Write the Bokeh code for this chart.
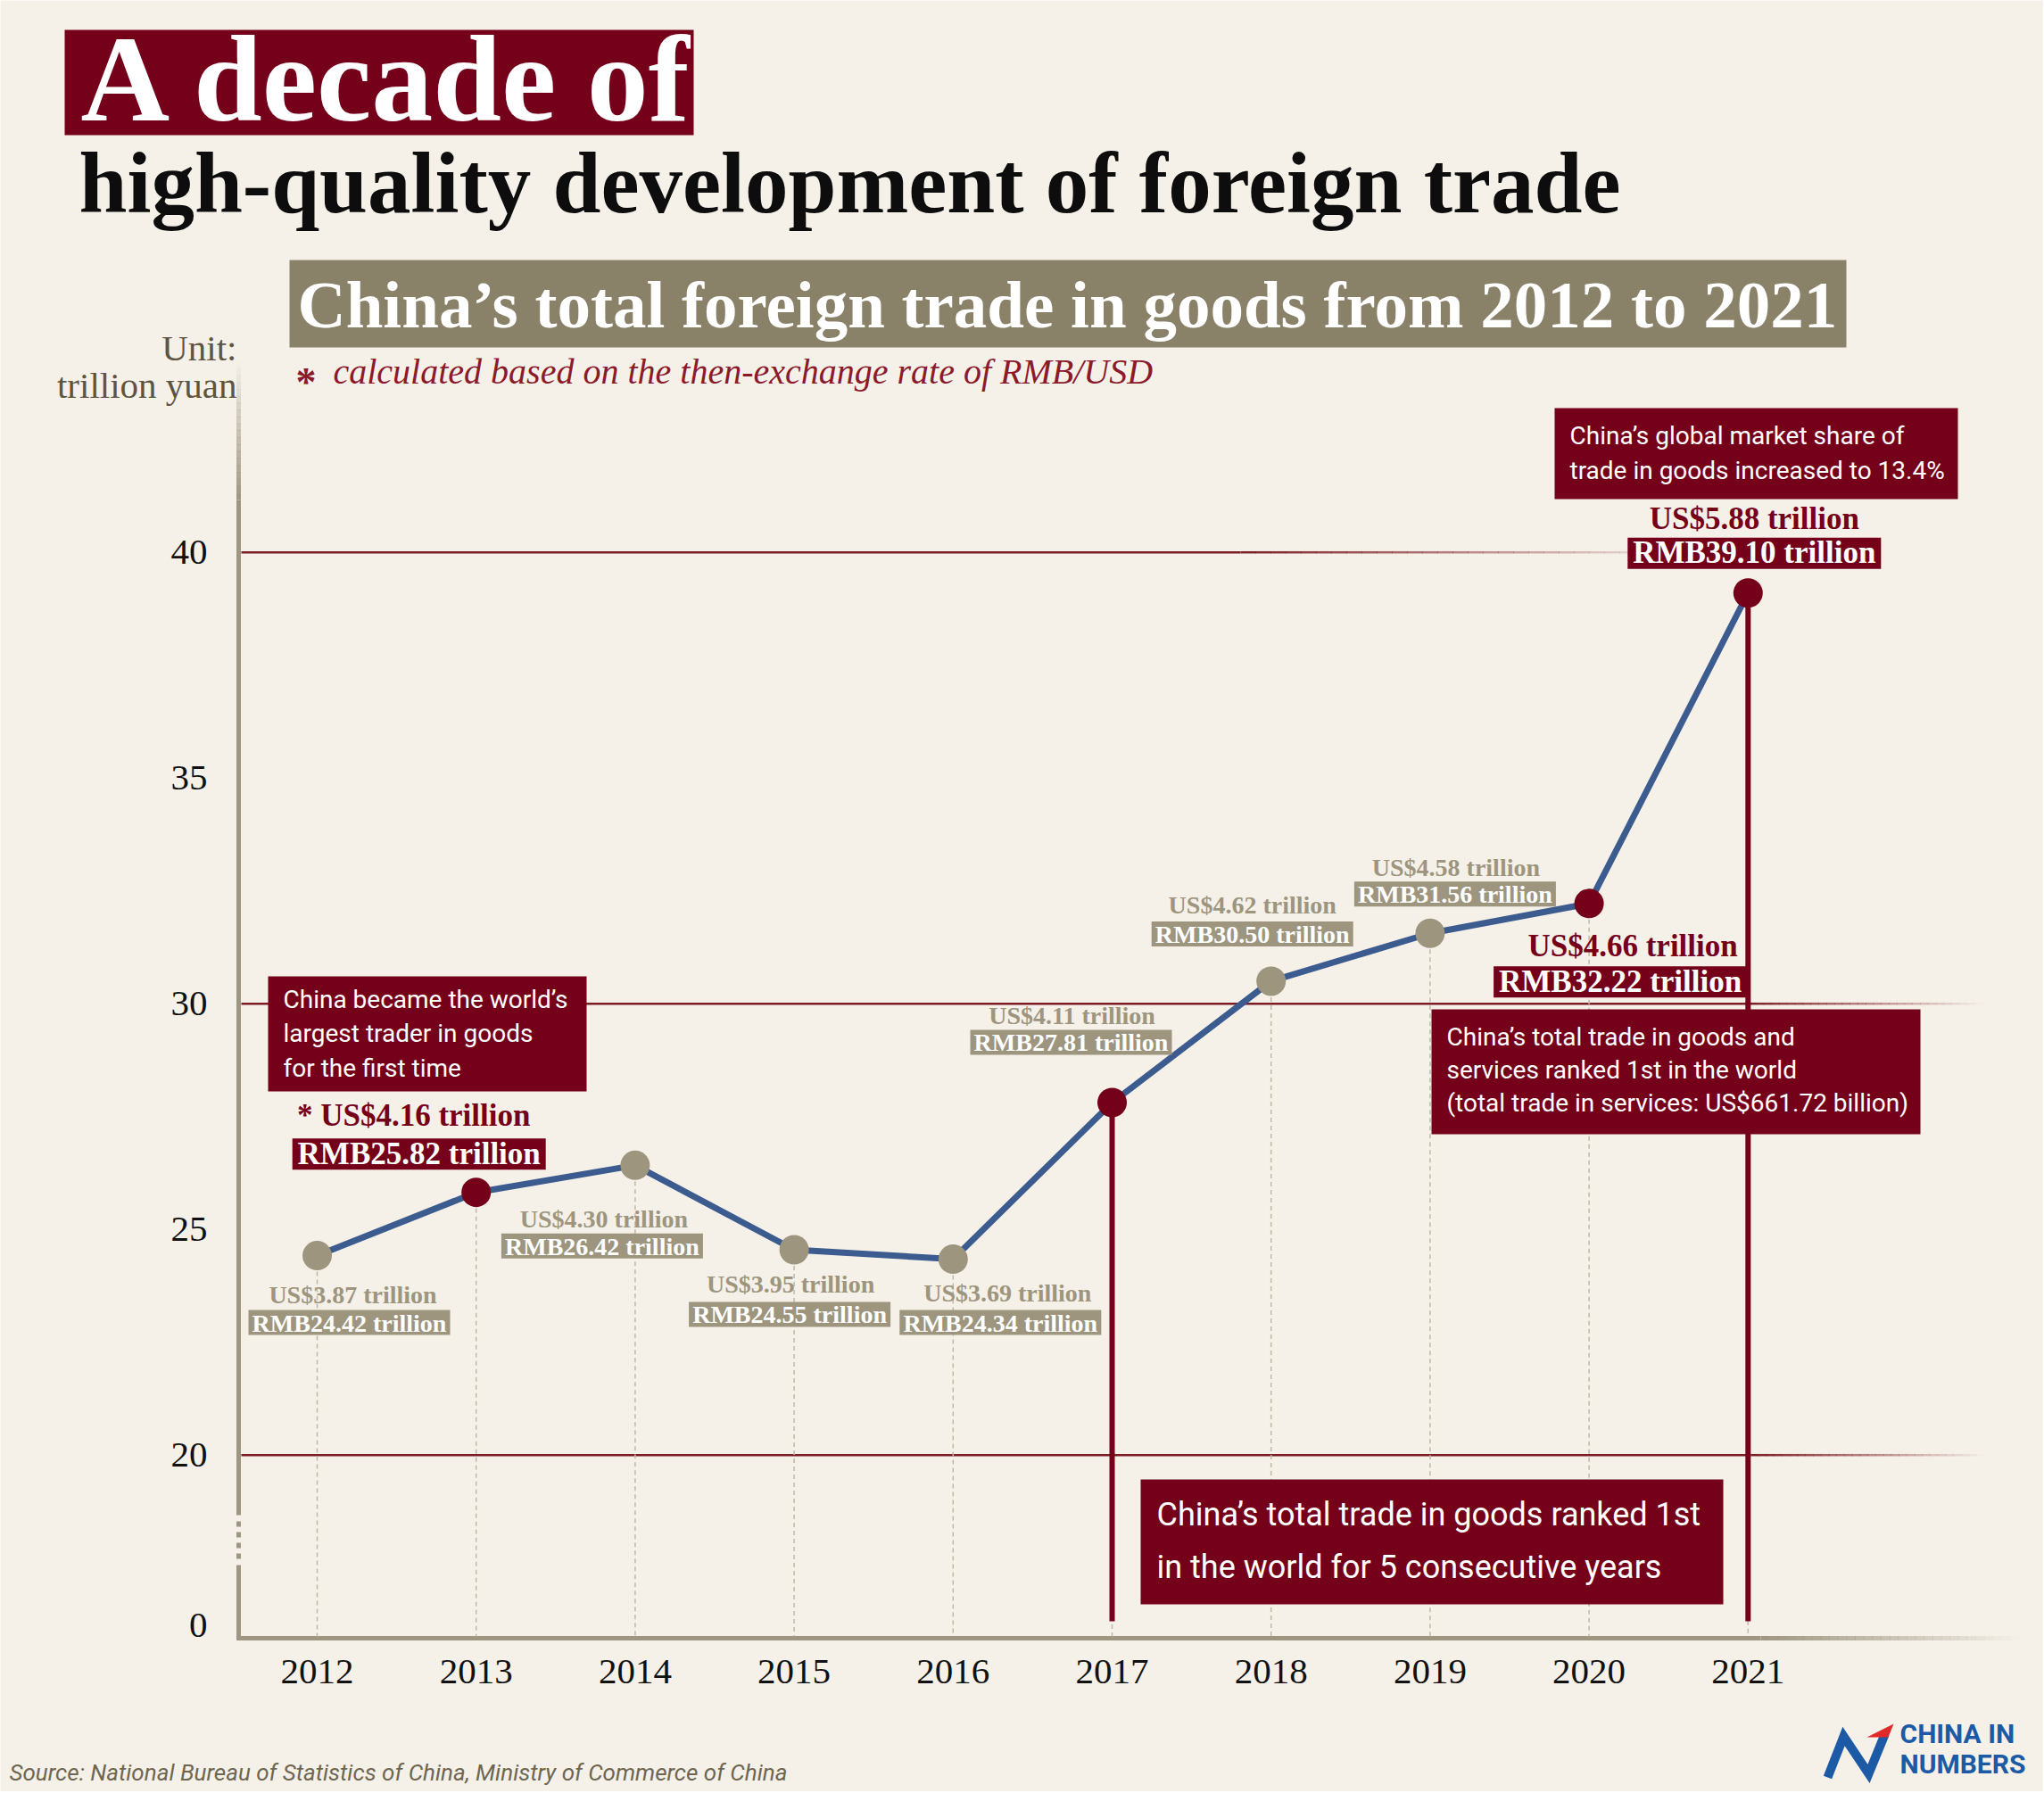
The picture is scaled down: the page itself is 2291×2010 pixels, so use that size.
from bokeh.plotting import figure
from bokeh.models import Range1d, LinearAxis, FixedTicker
from bokeh.core.properties import value
from bokeh.embed import file_html
from bokeh.resources import INLINE

# ---------------- data ----------------
years = [2012, 2013, 2014, 2015, 2016, 2017, 2018, 2019, 2020, 2021]
rmb_trillion = [24.42, 25.82, 26.42, 24.55, 24.34, 27.81, 30.50, 31.56, 32.22, 39.10]
usd_trillion = [3.87, 4.16, 4.30, 3.95, 3.69, 4.11, 4.62, 4.58, 4.66, 5.88]
y_ticks = [20, 25, 30, 35, 40]
grid_values = [20, 30, 40]
red_point_years = [2013, 2017, 2020, 2021]
red_label_years = [2013, 2020, 2021]
asterisk_years = [2013]
milestone_years = [2017, 2021]

# ---------------- layout (pixels of the 2291x2010 page) ----------------
W, H = 2290, 2008
PAD = 0
SX = 178.2      # px per year
SY = 50.6       # px per trillion yuan
X_START = 2012 - (355 - PAD) / SX
X_END = X_START + W / SX
Y_END = 30 + (1124.7 - PAD) / SY
Y_START = Y_END - H / SY
BSHIFT = 0.34   # baseline correction (fraction of font size)


def fx(px):
    return X_START + (px - PAD) / SX


def fy(py):
    return Y_END - (py - PAD) / SY


# label offsets relative to each point (screen px)
us_dx = [40, -70, -35, -4, 61, -45, -21, 29, 49, 7]
us_dy = [53, -74, 70, 48.5, 47, -87.5, -76, -64, 60, -71]
rmb_dx = [36, -64, -37, -5, 53, -46, -21, 28, 35, 7]
rmb_dy = [75, -43, 90.5, 72.5, 71, -67.5, -53, -44, 88, -44.5]

BG = "#f5f1e9"
RED = "#75001a"
GRID_RED = "#7c1c24"
GRAY = "#9d957e"
GRAY_BOX = "#8a8169"
BLUE = "#3c5b8e"
AXIS = "#9e9680"
DROP = "#c0b9a7"
SERIF = value("Liberation Serif")
SANS = value("Roboto")

p = figure(width=W, height=H, x_range=Range1d(X_START, X_END),
           y_range=Range1d(Y_START, Y_END), x_axis_type=None, y_axis_type=None,
           toolbar_location=None, output_backend="svg", min_border=0,
           background_fill_color=BG, border_fill_color=BG, outline_line_color=None)


def txt(x_px, y_px, s, size, color, font=SERIF, style="normal", align="left"):
    p.text(x=[fx(x_px)], y=[fy(y_px)], text=[s], text_font=font, y_offset=-BSHIFT * size,
           text_font_style=style, text_font_size=f"{size}px", text_color=color,
           text_align=align, text_baseline="alphabetic")


def box(l, t, r, b, color):
    p.quad(left=[fx(l)], right=[fx(r)], top=[fy(t)], bottom=[fy(b)],
           fill_color=color, line_color=None)


# ---------------- titles ----------------
box(72, 33, 777, 151, RED)
txt(90, 135, "A decade of", 138, "white", style="bold")
txt(88, 238, "high-quality development of foreign trade", 97, "#0d0d0d", style="bold")
box(324, 291, 2069, 389, GRAY_BOX)
txt(333, 366, "China’s total foreign trade in goods from 2012 to 2021", 75, "white", style="bold")
txt(331, 444, "*", 46, "#8b1a2b", style="bold")
txt(373, 430, "calculated based on the then-exchange rate of RMB/USD", 40, "#8b1a2b", style="italic")
txt(265, 403, "Unit:", 41, "#5d5541", align="right")
txt(265, 445, "trillion yuan", 41, "#5d5541", align="right")


# ---------------- grid lines with fade ----------------
def faded_hline(y, x0, x_solid, x_end, color, width, n=30):
    xs0, xs1, al = [fx(x0)], [fx(x_solid)], [1.0]
    step = (x_end - x_solid) / n
    for i in range(n):
        a = x_solid + i * step
        xs0.append(fx(a))
        xs1.append(fx(a + step + 0.5))
        al.append(1 - (i + 0.5) / n)
    p.segment(x0=xs0, x1=xs1, y0=[y] * len(xs0), y1=[y] * len(xs0),
              line_color=color, line_alpha=al, line_width=width, line_cap="butt")


grid_fade = {20: (1962, 2224), 30: (1959, 2222), 40: (1390, 1900)}
for g in grid_values:
    s, e = grid_fade[g]
    faded_hline(g, 270, s, e, GRID_RED, 2.5)

# x axis line
faded_hline(fy(1836), 265, 1973, 2262, AXIS, 5)

# y axis line (with break and top fade)
AX = fx(267)
p.segment(x0=[AX, AX], x1=[AX, AX], y0=[fy(1838.5), fy(1698)], y1=[fy(1754), fy(560)],
          line_color=AXIS, line_width=5, line_cap="butt")
p.segment(x0=[AX], x1=[AX], y0=[fy(1747)], y1=[fy(1705)], line_color=AXIS,
          line_width=5, line_dash="6 6", line_cap="butt")
n = 20
ys0 = [fy(560 - i * (155 / n)) for i in range(n)]
ys1 = [fy(560 - (i + 1) * (155 / n) - 0.5) for i in range(n)]
p.segment(x0=[AX] * n, x1=[AX] * n, y0=ys0, y1=ys1, line_color=AXIS, line_width=5,
          line_alpha=[1 - (i + 0.5) / n for i in range(n)], line_cap="butt")

# ---------------- axes (library ticks/labels) ----------------
zero_tick = round(fy(1822), 2)
yaxis = LinearAxis(fixed_location=AX, ticker=FixedTicker(ticks=[zero_tick] + y_ticks),
                   major_label_overrides={zero_tick: "0", **{t: str(t) for t in y_ticks}},
                   axis_line_color=None, major_tick_line_color=None, minor_tick_line_color=None,
                   major_tick_in=0, major_tick_out=0, major_label_standoff=35,
                   major_label_text_font="Liberation Serif", major_label_text_font_size="41px",
                   major_label_text_color="#111111")
p.add_layout(yaxis, "left")
xaxis = LinearAxis(fixed_location=fy(1836), ticker=FixedTicker(ticks=years),
                   major_label_overrides={y: str(y) for y in years},
                   axis_line_color=None, major_tick_line_color=None, minor_tick_line_color=None,
                   major_tick_in=0, major_tick_out=0, major_label_standoff=24,
                   major_label_text_font="Liberation Serif", major_label_text_font_size="41px",
                   major_label_text_color="#111111")
p.add_layout(xaxis, "below")

# ---------------- series ----------------
p.segment(x0=years, x1=years, y0=rmb_trillion, y1=[fy(1834)] * len(years),
          line_color=DROP, line_width=1.5, line_dash="5 4")
ms_vals = [rmb_trillion[years.index(y)] for y in milestone_years]
p.segment(x0=milestone_years, x1=milestone_years, y0=ms_vals,
          y1=[fy(1817)] * len(milestone_years), line_color=RED, line_width=6)
p.line(years, rmb_trillion, line_color=BLUE, line_width=7, line_join="round")
p.scatter(years, rmb_trillion, size=33, line_color=None,
          fill_color=[RED if y in red_point_years else GRAY for y in years])

# ---------------- annotation boxes ----------------
box(300, 1094, 657, 1223, RED)
for bl, s in zip([1130, 1168, 1207], ["China became the world’s", "largest trader in goods", "for the first time"]):
    txt(317, bl, s, 28, "white", font=SANS)
box(1742, 457, 2194, 559, RED)
for bl, s in zip([498, 537], ["China’s global market share of", "trade in goods increased to 13.4%"]):
    txt(1759, bl, s, 28, "white", font=SANS)
box(1604, 1131, 2152, 1271, RED)
for bl, s in zip([1172, 1209, 1246], ["China’s total trade in goods and", "services ranked 1st in the world",
                                       "(total trade in services: US$661.72 billion)"]):
    txt(1621, bl, s, 28, "white", font=SANS)
box(1278, 1658, 1931, 1798, RED)
for bl, s in zip([1710, 1769], ["China’s total trade in goods ranked 1st", "in the world for 5 consecutive years"]):
    txt(1296, bl, s, 36, "white", font=SANS)

# ---------------- value labels ----------------
for is_red in (False, True):
    idx = [i for i, y in enumerate(years) if (y in red_label_years) == is_red]
    size = 35 if is_red else 28
    bw, bh, inset = (284, 35, 6) if is_red else (226, 28, 4)
    col = RED if is_red else GRAY
    xs = [years[i] for i in idx]
    vs = [rmb_trillion[i] for i in idx]
    us_txt = [("* " if years[i] in asterisk_years else "") + f"US${usd_trillion[i]:.2f} trillion" for i in idx]
    rmb_txt = [f"RMB{rmb_trillion[i]:.2f} trillion" for i in idx]
    p.text(x=xs, y=vs, text=us_txt, x_offset=[us_dx[i] for i in idx],
           y_offset=[us_dy[i] - BSHIFT * size for i in idx],
           text_font=SERIF, text_font_style="bold", text_font_size=f"{size}px", text_color=col,
           text_align="center", text_baseline="alphabetic")
    p.rect(x=[years[i] + rmb_dx[i] / SX for i in idx], y=[rmb_trillion[i] - rmb_dy[i] / SY for i in idx],
           width=bw, height=bh, width_units="screen", height_units="screen",
           fill_color=col, line_color=None)
    p.text(x=xs, y=vs, text=rmb_txt, x_offset=[rmb_dx[i] for i in idx],
           y_offset=[rmb_dy[i] + bh / 2 - inset - BSHIFT * size for i in idx],
           text_font=SERIF, text_font_style="bold", text_font_size=f"{size}px", text_color="white",
           text_align="center", text_baseline="alphabetic")

# ---------------- footer ----------------
txt(10, 1995, "Source: National Bureau of Statistics of China, Ministry of Commerce of China", 26,
    "#6e6650", font=SANS, style="italic")
LOGO_BLUE = "#1d5aa6"
txt(2129, 1953, "CHINA IN", 30, LOGO_BLUE, font=SANS, style="bold")
txt(2129, 1987, "NUMBERS", 30, LOGO_BLUE, font=SANS, style="bold")
p.line([fx(v) for v in (2048, 2066, 2094, 2112)], [fy(v) for v in (1992, 1946, 1988, 1944)],
       line_color=LOGO_BLUE, line_width=10, line_join="miter")
p.patch([fx(v) for v in (2092, 2122, 2116)], [fy(v) for v in (1947, 1932, 1947)],
        fill_color="#e02a2a", line_color=None)

open("out.html", "w").write(file_html(p, INLINE))
